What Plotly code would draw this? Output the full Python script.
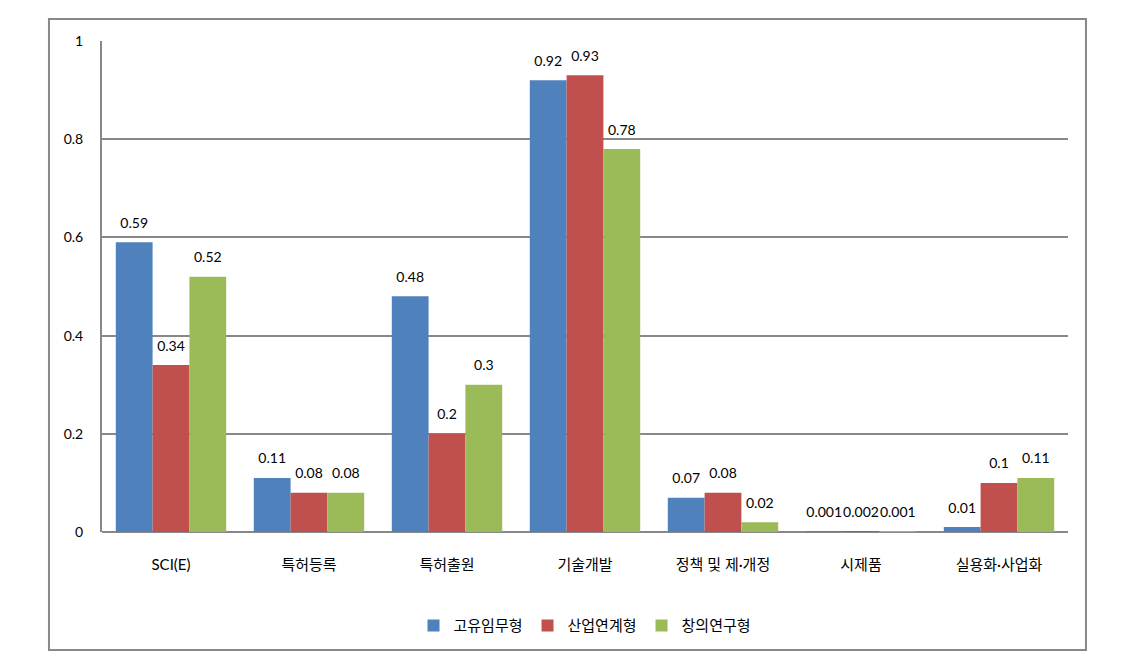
import plotly.graph_objects as go

categories = ["SCI(E)", "특허등록", "특허출원", "기술개발", "정책 및 제·개정", "시제품", "실용화·사업화"]
series_names = ["고유임무형", "산업연계형", "창의연구형"]
s1 = [0.59, 0.11, 0.48, 0.92, 0.07, 0.001, 0.01]
s2 = [0.34, 0.08, 0.2, 0.93, 0.08, 0.002, 0.1]
s3 = [0.52, 0.08, 0.3, 0.78, 0.02, 0.001, 0.11]
colors = ["#4F81BD", "#C0504D", "#9BBB59"]
y_ticks = [0, 0.2, 0.4, 0.6, 0.8, 1]
y_tick_text = ["0", "0.2", "0.4", "0.6", "0.8", "1"]

FONT = "Lato, Noto Sans CJK KR"
fig = go.Figure()
for i, (name, vals, c) in enumerate(zip(series_names, [s1, s2, s3], colors)):
    fig.add_trace(go.Bar(
        x=categories, y=vals, name=name, marker_color=c,
        marker_line_width=0, offsetgroup=str(i), alignmentgroup="a",
    ))
for i, vals in enumerate([s1, s2, s3]):
    fig.add_trace(go.Scatter(
        x=categories, y=vals, mode="markers+text", text=[str(v) for v in vals],
        textposition="top center", offsetgroup=str(i), alignmentgroup="a",
        marker=dict(size=16, color="rgba(0,0,0,0)"),
        textfont=dict(family=FONT, size=14, color="black"),
        showlegend=False, hoverinfo="skip", cliponaxis=False,
    ))

fig.update_layout(
    width=1146, height=667,
    margin=dict(l=102, r=78, t=41, b=135),
    paper_bgcolor="white", plot_bgcolor="white",
    barmode="group", bargap=0.2, bargroupgap=0, scattermode="group",
    font=dict(family=FONT, size=14, color="black"),
    legend=dict(orientation="h", x=0.5, xanchor="center", y=-0.191, yanchor="middle",
                font=dict(family=FONT, size=15), itemwidth=30, traceorder="normal"),
    xaxis=dict(showgrid=False, ticks="", ticklabelstandoff=22,
               tickfont=dict(family=FONT, size=15), showline=False),
    yaxis=dict(range=[0, 1], tickvals=y_ticks, ticktext=y_tick_text,
               showgrid=True, gridcolor="#888888", gridwidth=2,
               zeroline=True, zerolinecolor="#888888", zerolinewidth=2,
               showline=True, linecolor="#888888", linewidth=2,
               ticks="", ticklabelstandoff=14,
               tickfont=dict(family=FONT, size=14)),
    shapes=[dict(type="rect", xref="paper", yref="paper",
                 x0=-0.0549, x1=1.0186, y0=-0.2403, y1=1.0448,
                 line=dict(color="#888888", width=2), fillcolor="rgba(0,0,0,0)")],
)

fig.write_html("out.html")
